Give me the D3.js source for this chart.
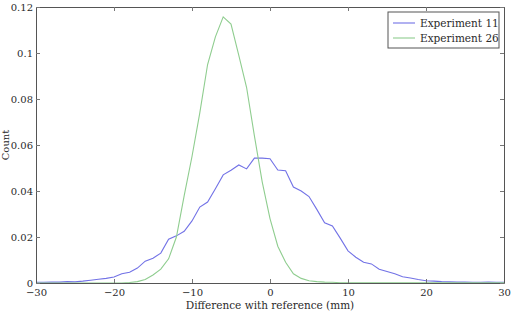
<!DOCTYPE html>
<html>
<head>
<meta charset="utf-8">
<script src="https://cdn.jsdelivr.net/npm/d3@7"></script>
<style>
  body { margin: 0; background: #fff; }
  svg text { font-family: "DejaVu Serif", serif; fill: #2a2a2a; }
</style>
</head>
<body>
<script>
// x positions (mm), one bin per mm
const bins = d3.range(-30, 31);

// Experiment 11
const exp11 = [
  0.0003, 0.0003, 0.0004, 0.0004, 0.0006, 0.0005, 0.0008, 0.0012, 0.0016, 0.0020,
  0.0026, 0.0040, 0.0047, 0.0065, 0.0095, 0.0108, 0.0130, 0.0190, 0.0205, 0.0225,
  0.0270, 0.0330, 0.0352, 0.0410, 0.0470, 0.0490, 0.0513, 0.0496, 0.0543, 0.0543,
  0.0540, 0.0491, 0.0488, 0.0417, 0.0400, 0.0376, 0.0320, 0.0262, 0.0248, 0.0195,
  0.0140, 0.0112, 0.0090, 0.0083, 0.0060, 0.0050, 0.0040, 0.0027, 0.0022, 0.0015,
  0.0010, 0.0008, 0.0006, 0.0005, 0.0004, 0.0004, 0.0003, 0.0003, 0.0004, 0.0003,
  0.0003
];

// Experiment 26
const exp26 = [
  0, 0, 0, 0, 0, 0, 0, 0, 0, 0,
  0, 0, 0.0002, 0.0006, 0.0015, 0.0035, 0.0060, 0.0105, 0.0200, 0.0380,
  0.0550, 0.0740, 0.0950, 0.1070, 0.1157, 0.1126, 0.0990, 0.0850, 0.0640, 0.0440,
  0.0280, 0.0160, 0.0090, 0.0040, 0.0020, 0.0010, 0.0006, 0.0004, 0.0003, 0.0001,
  0.0001, 0.0001, 0.0001, 0.0001, 0.0001, 0.0001, 0.0001, 0.0001, 0.0001, 0.0001,
  0.0001, 0.0001, 0.0001, 0.0001, 0.0001, 0.0001, 0.0001, 0.0001, 0.0001, 0.0001,
  0.0001
];

const xTicks = [-30, -20, -10, 0, 10, 20, 30];
const yTicks = [0, 0.02, 0.04, 0.06, 0.08, 0.1, 0.12];
const seriesNames = ["Experiment 11", "Experiment 26"];
const seriesColors = ["#7272e6", "#8fcd8f"];

const width = 517, height = 314;
const margin = { top: 7, right: 13, bottom: 31, left: 36 };
const w = width - margin.left - margin.right;
const h = height - margin.top - margin.bottom;

const svg = d3.select("body").append("svg")
  .attr("width", width)
  .attr("height", height);

const g = svg.append("g")
  .attr("transform", `translate(${margin.left},${margin.top})`);

const x = d3.scaleLinear().domain([-30, 30]).range([0, w]);
const y = d3.scaleLinear().domain([0, 0.12]).range([h, 0]);

const line = d3.line()
  .x((d, i) => x(bins[i]))
  .y(d => y(d));

[exp11, exp26].forEach((s, k) => {
  g.append("path")
    .datum(s)
    .attr("fill", "none")
    .attr("stroke", seriesColors[k])
    .attr("stroke-width", 1.1)
    .attr("d", line);
});

// axes, ticks inward like matlab
const fmtY = d => d === 0 ? "0" : String(+d.toFixed(2));
const tickLen = 4;

const xAxis = g.append("g")
  .attr("transform", `translate(0,${h})`)
  .call(d3.axisBottom(x).tickValues(xTicks).tickSizeInner(-tickLen).tickSizeOuter(0).tickPadding(6));
const xTop = g.append("g")
  .call(d3.axisTop(x).tickValues(xTicks).tickSizeInner(-tickLen).tickSizeOuter(0).tickFormat(""));
const yAxis = g.append("g")
  .call(d3.axisLeft(y).tickValues(yTicks).tickSizeInner(-tickLen).tickSizeOuter(0).tickPadding(3).tickFormat(fmtY));
const yRight = g.append("g")
  .attr("transform", `translate(${w},0)`)
  .call(d3.axisRight(y).tickValues(yTicks).tickSizeInner(-tickLen).tickSizeOuter(0).tickFormat(""));

[xAxis, xTop, yAxis, yRight].forEach(a => {
  a.selectAll("path").attr("stroke", "#555");
  a.selectAll("line").attr("stroke", "#777");
  a.selectAll("text")
    .style("font-size", "10px")
    .attr("fill", "#2a2a2a");
});

// axis titles
svg.append("text")
  .attr("x", margin.left + w / 2)
  .attr("y", 309)
  .attr("text-anchor", "middle")
  .style("font-size", "10.5px")
  .text("Difference with reference (mm)");

svg.append("text")
  .attr("transform", `translate(8.5,${margin.top + h / 2}) rotate(-90)`)
  .attr("text-anchor", "middle")
  .style("font-size", "10px")
  .text("Count");

// legend
const lg = svg.append("g").attr("transform", "translate(388,12)");
lg.append("rect")
  .attr("width", 111).attr("height", 36)
  .attr("fill", "#fff").attr("stroke", "#555");
seriesNames.forEach((name, i) => {
  const yy = 11 + i * 15;
  lg.append("line")
    .attr("x1", 5).attr("x2", 27).attr("y1", yy).attr("y2", yy)
    .attr("stroke", seriesColors[i]).attr("stroke-width", 1.1);
  lg.append("text")
    .attr("x", 32).attr("y", yy + 4)
    .style("font-size", "10.5px")
    .text(name);
});
</script>
</body>
</html>
